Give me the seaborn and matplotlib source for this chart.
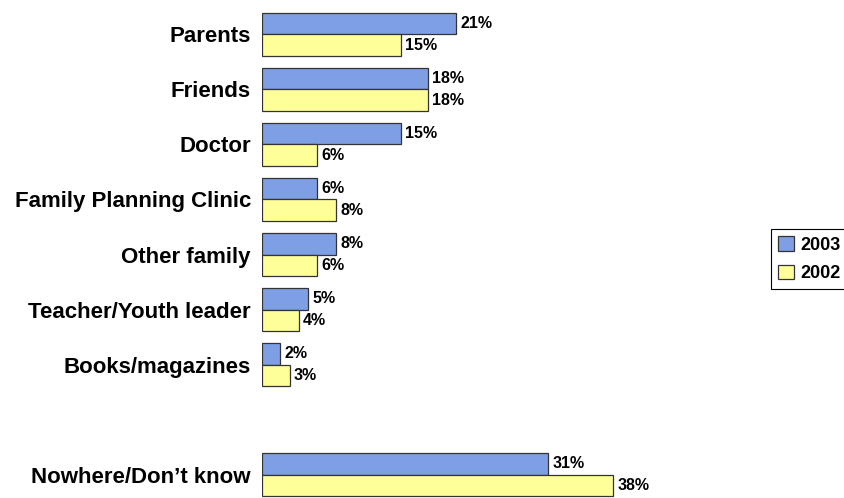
import matplotlib
matplotlib.use("Agg")
import matplotlib.pyplot as plt
from matplotlib.patches import Patch
import pandas as pd
import seaborn as sns

# Where young people get information: share of respondents by source
sources = ["Parents", "Friends", "Doctor", "Family Planning Clinic", "Other family",
           "Teacher/Youth leader", "Books/magazines", "Nowhere/Don\u2019t know"]
pct_2003 = [21, 18, 15, 6, 8, 5, 2, 31]
pct_2002 = [15, 18, 6, 8, 6, 4, 3, 38]
years = ["2003", "2002"]
colors = {"2003": "#7F9FE5", "2002": "#FFFF99"}

df = pd.DataFrame({
    "source": sources * 2,
    "pct": pct_2003 + pct_2002,
    "year": ["2003"] * len(sources) + ["2002"] * len(sources),
})

# blank slot separating the last category from the rest
order = sources[:-1] + [" "] + sources[-1:]

sns.set_style("white")
plt.rcParams["font.family"] = ["Liberation Sans", "DejaVu Sans"]
plt.rcParams["text.color"] = "black"
plt.rcParams["ytick.color"] = "black"
plt.rcParams["ytick.labelcolor"] = "black"

fig = plt.figure(figsize=(8.45, 4.98), dpi=100)
ax = fig.add_axes([262 / 845, 0, 462 / 845, 1])

sns.barplot(data=df, x="pct", y="source", hue="year", order=order,
            hue_order=years, palette=colors, orient="h", width=0.78,
            edgecolor="#333333", linewidth=0.9, errorbar=None,
            legend=False, ax=ax, saturation=1)

ax.set_xlim(0, 50)
ax.set_ylim(8.427, -0.627)
for s in ax.spines.values():
    s.set_visible(False)
ax.set_xticks([])
ax.set_xlabel("")
ax.set_ylabel("")
ax.tick_params(axis="y", length=0, pad=8)
for lbl in ax.get_yticklabels():
    lbl.set_fontsize(16)
    lbl.set_fontweight("bold")
    lbl.set_color("black")

for cont in ax.containers:
    ax.bar_label(cont, fmt="%g%%", padding=3, fontsize=11.5,
                 fontweight="bold", color="black")

handles = [Patch(facecolor=colors[y], edgecolor="#333333", linewidth=0.9) for y in years]
leg = fig.legend(handles, years, loc="upper left",
                 bbox_to_anchor=(771 / 845, 1 - 229 / 498), borderaxespad=0,
                 frameon=True, fancybox=False, framealpha=1,
                 edgecolor="black", handlelength=0.85, handleheight=0.85,
                 handletextpad=0.35, borderpad=0.4, labelspacing=0.6,
                 prop={"weight": "bold", "size": 13})
leg.get_frame().set_linewidth(0.8)

fig.savefig("out.png", dpi=100)
